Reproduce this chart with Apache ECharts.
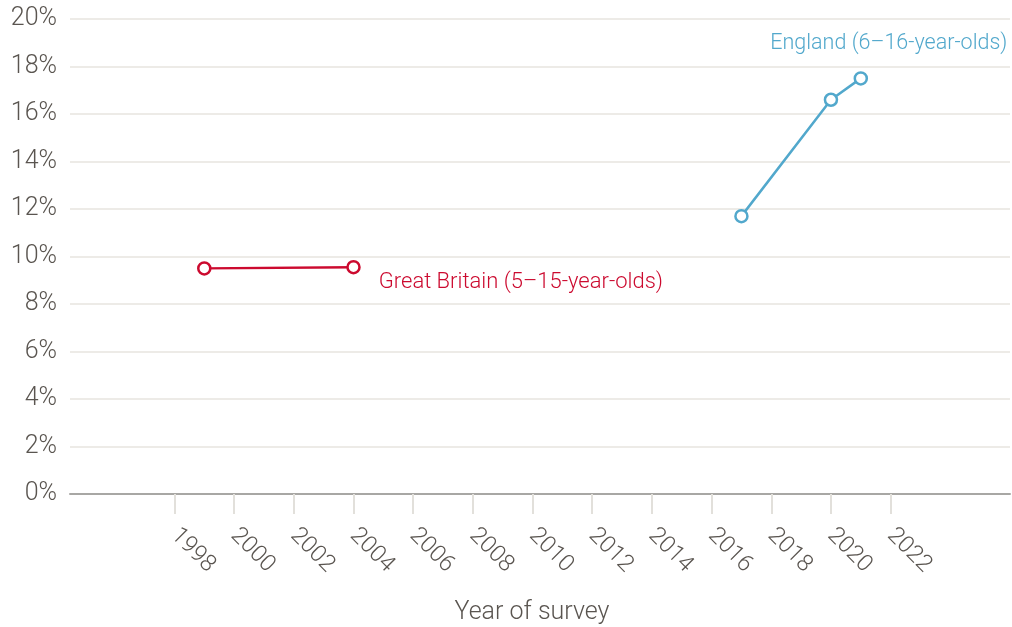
<!DOCTYPE html>
<html><head><meta charset="utf-8">
<script src="https://cdn.jsdelivr.net/npm/echarts@6/dist/echarts.min.js"></script>
<style>html,body{margin:0;padding:0;background:#fff}#c{width:1012px;height:627px}</style>
</head><body><div id="c"></div>
<script>
var gbYears = [1999, 2004];
var gbValues = [9.5, 9.55];
var engYears = [2017, 2020, 2021];
var engValues = [11.7, 16.6, 17.5];
var xTickLabels = [1998, 2000, 2002, 2004, 2006, 2008, 2010, 2012, 2014, 2016, 2018, 2020, 2022];
var gbName = 'Great Britain (5–15-year-olds)';
var engName = 'England (6–16-year-olds)';

var FONT = 'Roboto';
var RED = '#cc0a2f', BLUE = '#52a8cc';
function pts(xs, ys){ return xs.map(function(x,i){ return [x, ys[i]]; }); }
var gbData = pts(gbYears, gbValues);
gbData[gbData.length-1] = {value: gbData[gbData.length-1], label: {show: true, formatter: gbName, position: 'right', distance: 18, offset: [0, 15], color: RED, fontSize: 22, fontFamily: FONT, fontWeight: 300}};
var engData = pts(engYears, engValues);
engData[engData.length-1] = {value: engData[engData.length-1], label: {show: true, formatter: engName, position: 'top', distance: 14, offset: [28, -3], color: BLUE, fontSize: 21.5, fontFamily: FONT, fontWeight: 300}};

var chart = echarts.init(document.getElementById('c'), null, {renderer: 'canvas'});
chart.setOption({
  animation: false,
  grid: {left: 70, right: 2, top: 19, bottom: 133, containLabel: false, outerBoundsMode: 'none'},
  xAxis: {
    type: 'value', min: 1994.5, max: 2026,
    name: 'Year of survey', nameLocation: 'middle', nameGap: 106,
    nameTextStyle: {color: '#5a5550', fontSize: 25, fontFamily: FONT, fontWeight: 300, padding: [0, 16, 0, 0]},
    axisLine: {show: true, onZero: false, lineStyle: {color: '#a8a7a4', width: 2}},
    axisTick: {show: true, customValues: xTickLabels, length: 20, lineStyle: {color: '#e2e0db', width: 2}},
    axisLabel: {customValues: xTickLabels, rotate: -45, margin: 38, formatter: function(v){ return String(v); },
      color: '#5a5550', fontSize: 23.5, fontFamily: FONT, fontWeight: 300},
    splitLine: {show: false}
  },
  yAxis: {
    type: 'value', min: 0, max: 20, interval: 2,
    axisLine: {show: false}, axisTick: {show: false},
    axisLabel: {formatter: '{value}%', margin: 13, color: '#5a5550', fontSize: 25, fontFamily: FONT, fontWeight: 300},
    splitLine: {lineStyle: {color: '#edebe7', width: 2}}
  },
  series: [
    {type: 'line', name: gbName, data: gbData, symbol: 'circle', symbolSize: 12, showAllSymbol: true,
     lineStyle: {color: RED, width: 2.5}, itemStyle: {color: '#fff', borderColor: RED, borderWidth: 2.5}, z: 3},
    {type: 'line', name: engName, data: engData, symbol: 'circle', symbolSize: 12, showAllSymbol: true,
     lineStyle: {color: BLUE, width: 2.5}, itemStyle: {color: '#fff', borderColor: BLUE, borderWidth: 2.5}, z: 3}
  ]
});
</script></body></html>
